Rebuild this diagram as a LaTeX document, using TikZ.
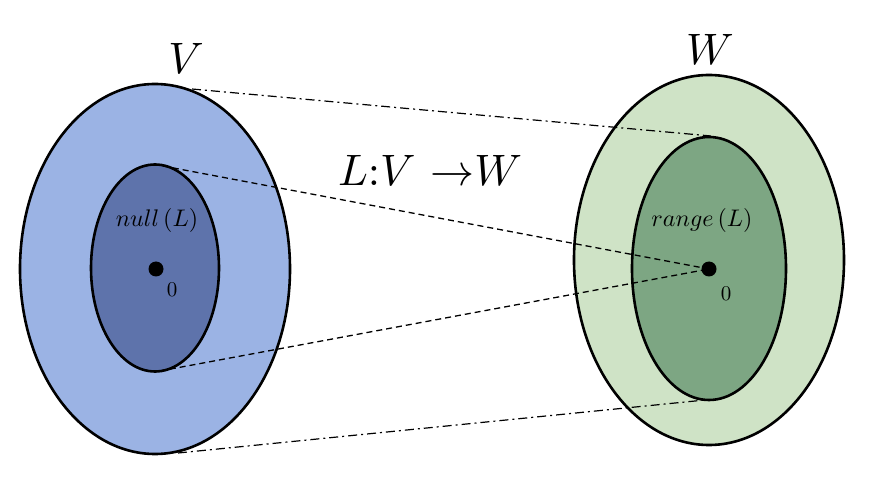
\documentclass[tikz,border=0pt]{standalone}
\usetikzlibrary{shapes.geometric}
\definecolor{vouter}{HTML}{9BB3E4}
\definecolor{vinner}{HTML}{5E73AB}
\definecolor{wouter}{HTML}{CFE3C6}
\definecolor{winner}{HTML}{7DA683}
\begin{document}
\begin{tikzpicture}[x=1pt,y=-1pt,
  blob/.style={ellipse,draw=black,line width=2.6pt,inner sep=0pt},
  dotnode/.style={circle,fill=black,inner sep=0pt,minimum size=15pt},
  bigmath/.style={scale=4.4,inner sep=0pt},
  midmath/.style={scale=2.4,inner sep=0pt},
  zeromath/.style={scale=2.1,inner sep=0pt},
  dashdot/.style={line width=1.2pt,dash pattern=on 9pt off 4pt on 2pt off 4pt},
  dashline/.style={line width=1.3pt,dash pattern=on 6pt off 4pt}]
\useasboundingbox (0,0) rectangle (871,481);
% left ellipses
\node[blob,fill=vouter,minimum width=270pt,minimum height=370pt] (Vo) at (155,269) {};
\node[blob,fill=vinner,minimum width=128pt,minimum height=207pt] (Vi) at (155,268) {};
% right ellipses
\node[blob,fill=wouter,minimum width=270pt,minimum height=370pt] (Wo) at (709,260) {};
\node[blob,fill=winner,minimum width=154pt,minimum height=263pt] (Wi) at (709,268.5) {};
% dots
\node[dotnode] (z1) at (156,269) {};
\node[dotnode] (z2) at (709,269) {};
% connector endpoints
\coordinate (a1) at (192,89);
\coordinate (a2) at (711,136);
\coordinate (b1) at (178,453);
\coordinate (b2) at (705,400);
\coordinate (c1) at (163,166);
\coordinate (d1) at (160,371);
\draw[dashdot] (a1) -- (a2);
\draw[dashdot] (b1) -- (b2);
\draw[dashline] (c1) -- (z2.center);
\draw[dashline] (d1) -- (z2.center);
% labels
\node[bigmath] (lV) at (186,58) {$V$};
\node[bigmath] (lW) at (710,49) {$W$};
\node[bigmath] (lmap) at (430,170) {$L{:}V\ {\to}W$};
\node[midmath] (lnull) at (157,221) {$null\,(L)$};
\node[midmath] (lrange) at (702,221) {$range\,(L)$};
\node[zeromath] (l0a) at (172,290) {$0$};
\node[zeromath] (l0b) at (726,294) {$0$};
\end{tikzpicture}
\end{document}
